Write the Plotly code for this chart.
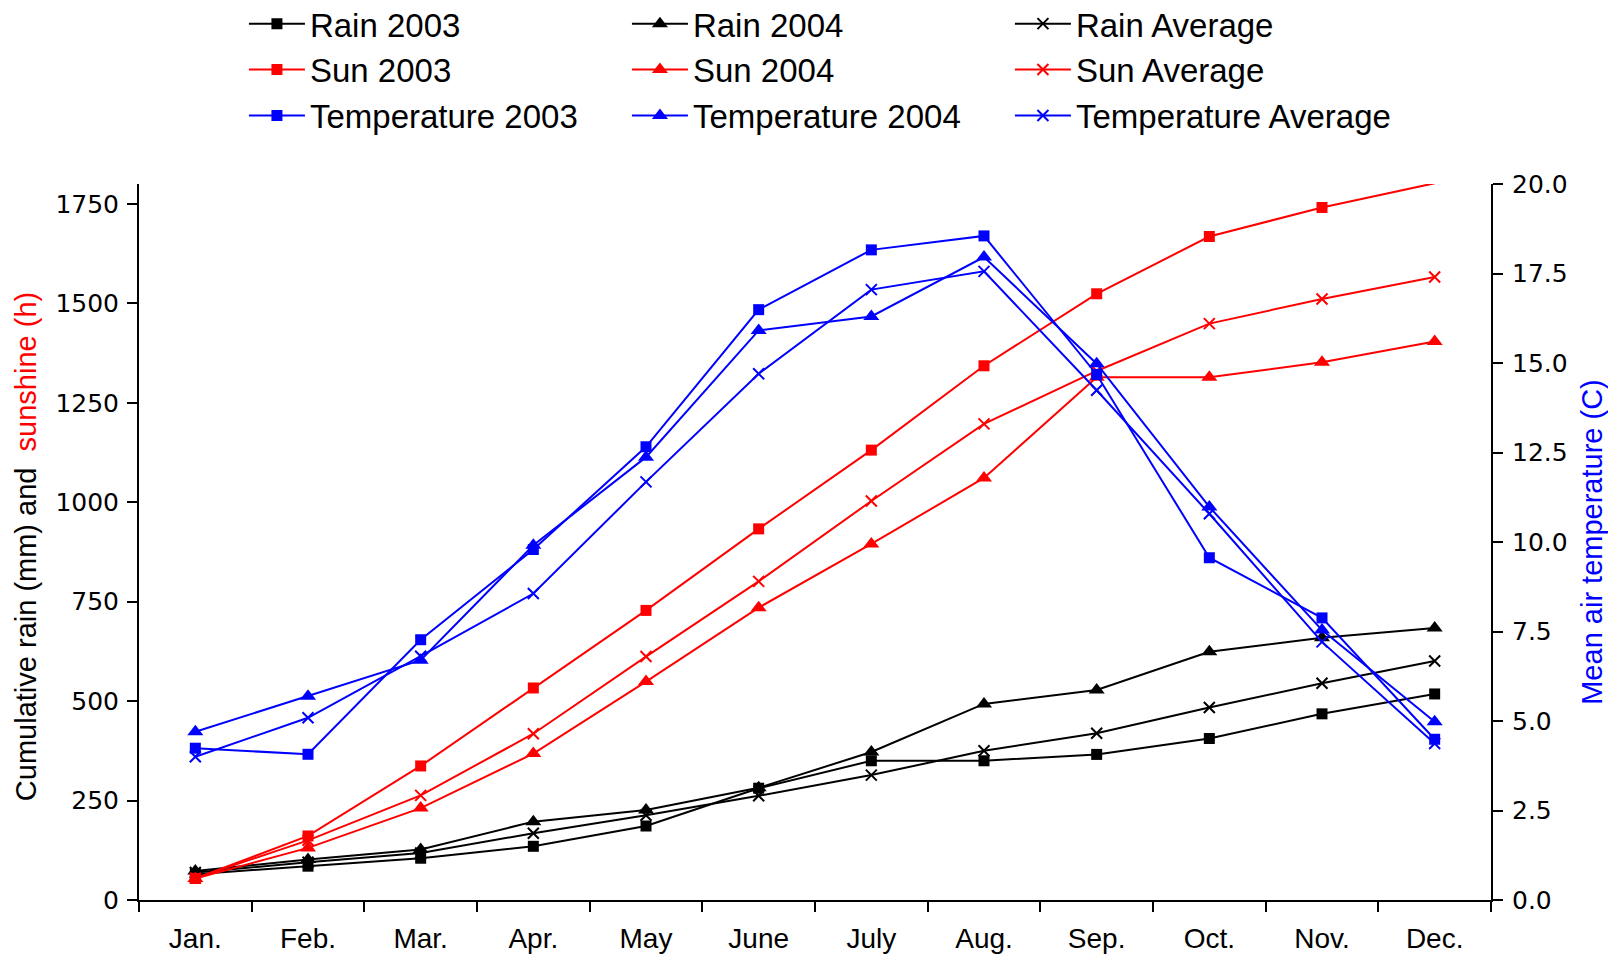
import plotly.graph_objects as go

months = ["Jan.", "Feb.", "Mar.", "Apr.", "May", "June", "July", "Aug.", "Sep.", "Oct.", "Nov.", "Dec."]

rain_2003 = [65, 85, 105, 135, 186, 281, 350, 350, 366, 406, 468, 518]
rain_2004 = [73, 102, 127, 197, 226, 282, 372, 493, 528, 624, 659, 684]
rain_avg = [69, 95, 118, 168, 213, 262, 314, 375, 419, 484, 545, 601]

sun_2003 = [54, 161, 337, 533, 728, 933, 1131, 1343, 1524, 1668, 1741, 1802]
sun_2004 = [54, 131, 231, 368, 549, 735, 895, 1061, 1314, 1314, 1352, 1404]
sun_avg = [55, 150, 263, 418, 612, 801, 1003, 1197, 1330, 1449, 1511, 1566]

temp_2003 = [4.24, 4.07, 7.27, 9.79, 12.66, 16.49, 18.16, 18.55, 14.68, 9.56, 7.88, 4.49]
temp_2004 = [4.70, 5.69, 6.70, 9.91, 12.37, 15.91, 16.30, 17.96, 14.98, 10.98, 7.54, 4.98]
temp_avg = [4.00, 5.09, 6.81, 8.56, 11.68, 14.70, 17.05, 17.56, 14.24, 10.79, 7.21, 4.37]

left_ticks = [0, 250, 500, 750, 1000, 1250, 1500, 1750]
right_ticks = [0, 2.5, 5, 7.5, 10, 12.5, 15, 17.5, 20]

left_title = "Cumulative rain (mm) and  <span style='color:red'>sunshine (h)</span>"
right_title = "Mean air temperature (C)"

NARROW = "Liberation Sans Narrow, Arial Narrow, Liberation Sans, Arial, sans-serif"
WIDE = "DejaVu Sans, Verdana, sans-serif"

series = [
    ("Rain 2003", rain_2003, "black", "square", "y"),
    ("Rain 2004", rain_2004, "black", "triangle-up", "y"),
    ("Rain Average", rain_avg, "black", "x-thin", "y"),
    ("Sun 2003", sun_2003, "red", "square", "y"),
    ("Sun 2004", sun_2004, "red", "triangle-up", "y"),
    ("Sun Average", sun_avg, "red", "x-thin", "y"),
    ("Temperature 2003", temp_2003, "blue", "square", "y2"),
    ("Temperature 2004", temp_2004, "blue", "triangle-up", "y2"),
    ("Temperature Average", temp_avg, "blue", "x-thin", "y2"),
]

fig = go.Figure()
for name, vals, col, sym, ax in series:
    size = {"square": 11, "triangle-up": 14, "x-thin": 11}[sym]
    fig.add_trace(go.Scatter(
        x=months, y=vals, name=name, yaxis=ax, mode="lines+markers",
        line=dict(color=col, width=2),
        marker=dict(symbol=sym, size=size, color=col,
                    line=dict(color=col, width=2 if sym == "x-thin" else 0)),
        cliponaxis=False,
    ))

fig.add_annotation(
    text=left_title, xref="paper", yref="paper", x=-0.0837, y=0.494,
    xanchor="center", yanchor="middle", textangle=-90, showarrow=False,
    font=dict(family=NARROW, size=29, color="black"),
)

fig.update_layout(
    width=1616, height=958,
    margin=dict(l=131, r=133, t=176, b=66, autoexpand=False),
    paper_bgcolor="white", plot_bgcolor="white",
    showlegend=True,
    legend=dict(
        orientation="h", xref="container", yref="paper",
        x=0.146, y=1.263, xanchor="left", yanchor="top",
        entrywidth=312, entrywidthmode="pixels",
        font=dict(family=NARROW, size=33, color="black"),
        itemwidth=56, tracegroupgap=0, bgcolor="rgba(0,0,0,0)",
    ),
    xaxis=dict(
        type="category", range=[-0.5, 11.5], tickson="boundaries",
        ticks="outside", ticklen=10, tickwidth=2, tickcolor="black",
        showline=True, linecolor="black", linewidth=2,
        showgrid=False, zeroline=False, ticklabelstandoff=12,
        tickfont=dict(family=NARROW, size=28, color="black"),
    ),
    yaxis=dict(
        range=[0, 1800], tickvals=left_ticks,
        ticks="outside", ticklen=10, tickwidth=2, tickcolor="black",
        showline=True, linecolor="black", linewidth=2,
        showgrid=False, zeroline=False, ticklabelstandoff=3,
        tickfont=dict(family=WIDE, size=25, color="black"),
    ),
    yaxis2=dict(
        overlaying="y", side="right", range=[0, 20], tickvals=right_ticks,
        tickformat=".1f",
        ticks="outside", ticklen=10, tickwidth=2, tickcolor="black",
        showline=True, linecolor="black", linewidth=2,
        showgrid=False, zeroline=False, ticklabelstandoff=4,
        tickfont=dict(family=WIDE, size=25, color="black"),
        title=dict(text=right_title,
                   font=dict(family=NARROW, size=29, color="blue")),
    ),
)

fig.write_html("out.html")
